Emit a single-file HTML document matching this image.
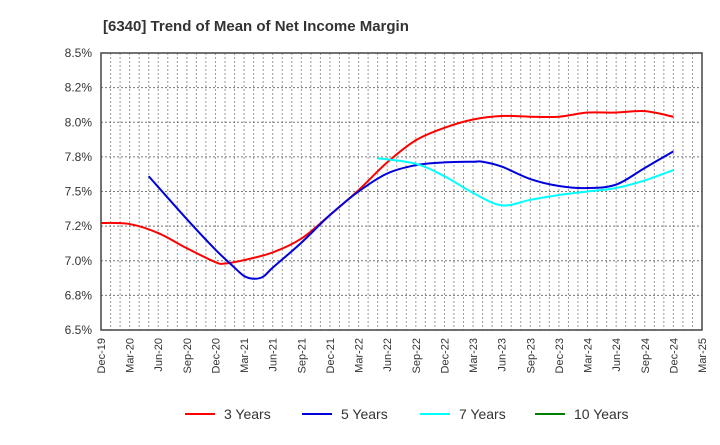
<!DOCTYPE html>
<html><head><meta charset="utf-8"><style>
body{margin:0;background:#fff;font-family:"Liberation Sans",Arial,sans-serif;}
svg text{font-family:"Liberation Sans",Arial,sans-serif;}
</style></head><body>
<svg id="chart" width="720" height="440" xmlns="http://www.w3.org/2000/svg">
<text x="103" y="31" font-size="15" font-weight="bold" fill="#333">[6340]  Trend of Mean of Net Income Margin</text>
<g id="grid"></g><g id="axes"></g><g id="series"></g><g id="legend"></g>
</svg>
<script>
const xLabels=["Dec-19","Mar-20","Jun-20","Sep-20","Dec-20","Mar-21","Jun-21","Sep-21","Dec-21","Mar-22","Jun-22","Sep-22","Dec-22","Mar-23","Jun-23","Sep-23","Dec-23","Mar-24","Jun-24","Sep-24","Dec-24","Mar-25"];
const yTicks=[6.5,6.75,7.0,7.25,7.5,7.75,8.0,8.25,8.5];
const yTickLabels=["6.5%","6.8%","7.0%","7.2%","7.5%","7.8%","8.0%","8.2%","8.5%"];
const months3=[0,3,6,9,12,13,15,18,21,24,27,30,33,36,39,42,45,48,51,54,57,60];
const vals3=[7.273,7.265,7.20,7.09,6.99,6.98,7.005,7.06,7.16,7.33,7.51,7.71,7.87,7.96,8.02,8.045,8.04,8.04,8.07,8.07,8.08,8.04];
const months5=[5,9,12,14,15,16,17,18,21,24,27,30,33,36,39,40,42,45,48,51,54,57,60];
const vals5=[7.61,7.30,7.08,6.95,6.89,6.87,6.885,6.95,7.13,7.33,7.50,7.63,7.69,7.71,7.715,7.715,7.68,7.59,7.54,7.525,7.55,7.67,7.79];
const months7=[29,33,36,39,42,45,48,51,54,57,60];
const vals7=[7.74,7.70,7.61,7.49,7.40,7.44,7.475,7.50,7.525,7.58,7.655];
const months10=[];
const vals10=[];
const X0=101,X1=702,Y0=53,Y1=330,NM=63;
const xs=m=>X0+(X1-X0)*m/NM;
const ys=v=>Y1-(v-6.5)/2*(Y1-Y0);
const NS="http://www.w3.org/2000/svg";
function mk(tag,attrs,parent){const e=document.createElementNS(NS,tag);for(const k in attrs)e.setAttribute(k,attrs[k]);parent.appendChild(e);return e;}
const grid=document.getElementById('grid'),axes=document.getElementById('axes'),ser=document.getElementById('series'),leg=document.getElementById('legend');
for(let m=1;m<NM;m++){const l=mk('line',{x1:xs(m),x2:xs(m),y1:Y0,y2:Y1,stroke:'#999','stroke-dasharray':'2,2','stroke-width':1},grid);

}
yTicks.forEach((v,i)=>{if(i>0&&i<yTicks.length-1){const l=mk('line',{x1:X0,x2:X1,y1:ys(v),y2:ys(v),stroke:'#777','stroke-dasharray':'2,2','stroke-width':1},grid);

}
const t=mk('text',{x:92,y:ys(v)+4,'text-anchor':'end','font-size':12,fill:'#333'},axes);t.textContent=yTickLabels[i];

});
xLabels.forEach((s,i)=>{const x=xs(i*3);const t=mk('text',{x:0,y:0,transform:`translate(${x+4},338) rotate(-90)`,'text-anchor':'end','font-size':11,fill:'#333'},axes);t.textContent=s;

});
const fr=mk('rect',{x:X0,y:Y0,width:X1-X0,height:Y1-Y0,fill:'none',stroke:'#444','stroke-width':1.5},axes);


function path(ms,vs){if(!ms.length)return '';const p=ms.map((m,i)=>[xs(m),ys(vs[i])]);let d=`M${p[0][0]},${p[0][1]}`;
for(let i=0;i<p.length-1;i++){const a=p[i-1]||p[i],b=p[i],c=p[i+1],e=p[i+2]||c;
d+=` C${b[0]+(c[0]-a[0])/6},${b[1]+(c[1]-a[1])/6} ${c[0]-(e[0]-b[0])/6},${c[1]-(e[1]-b[1])/6} ${c[0]},${c[1]}`;}return d;}
[[months3,vals3,'#ff0000','series-3-years'],[months5,vals5,'#0000dd','series-5-years'],[months7,vals7,'#00ffff','series-7-years'],[months10,vals10,'#008000','series-10-years']].forEach(s=>{
if(!s[0].length)return;const p=mk('path',{d:path(s[0],s[1]),fill:'none',stroke:s[2],'stroke-width':2},ser);

});
[['3 Years','#ff0000',185],['5 Years','#0000dd',302],['7 Years','#00ffff',420],['10 Years','#008000',535]].forEach(l=>{
const g=mk('g',{},leg);


mk('line',{x1:l[2],x2:l[2]+30,y1:414,y2:414,stroke:l[1],'stroke-width':2},g);
const t=mk('text',{x:l[2]+39,y:419,'font-size':14,fill:'#333'},g);t.textContent=l[0];});
</script>
</body></html>
